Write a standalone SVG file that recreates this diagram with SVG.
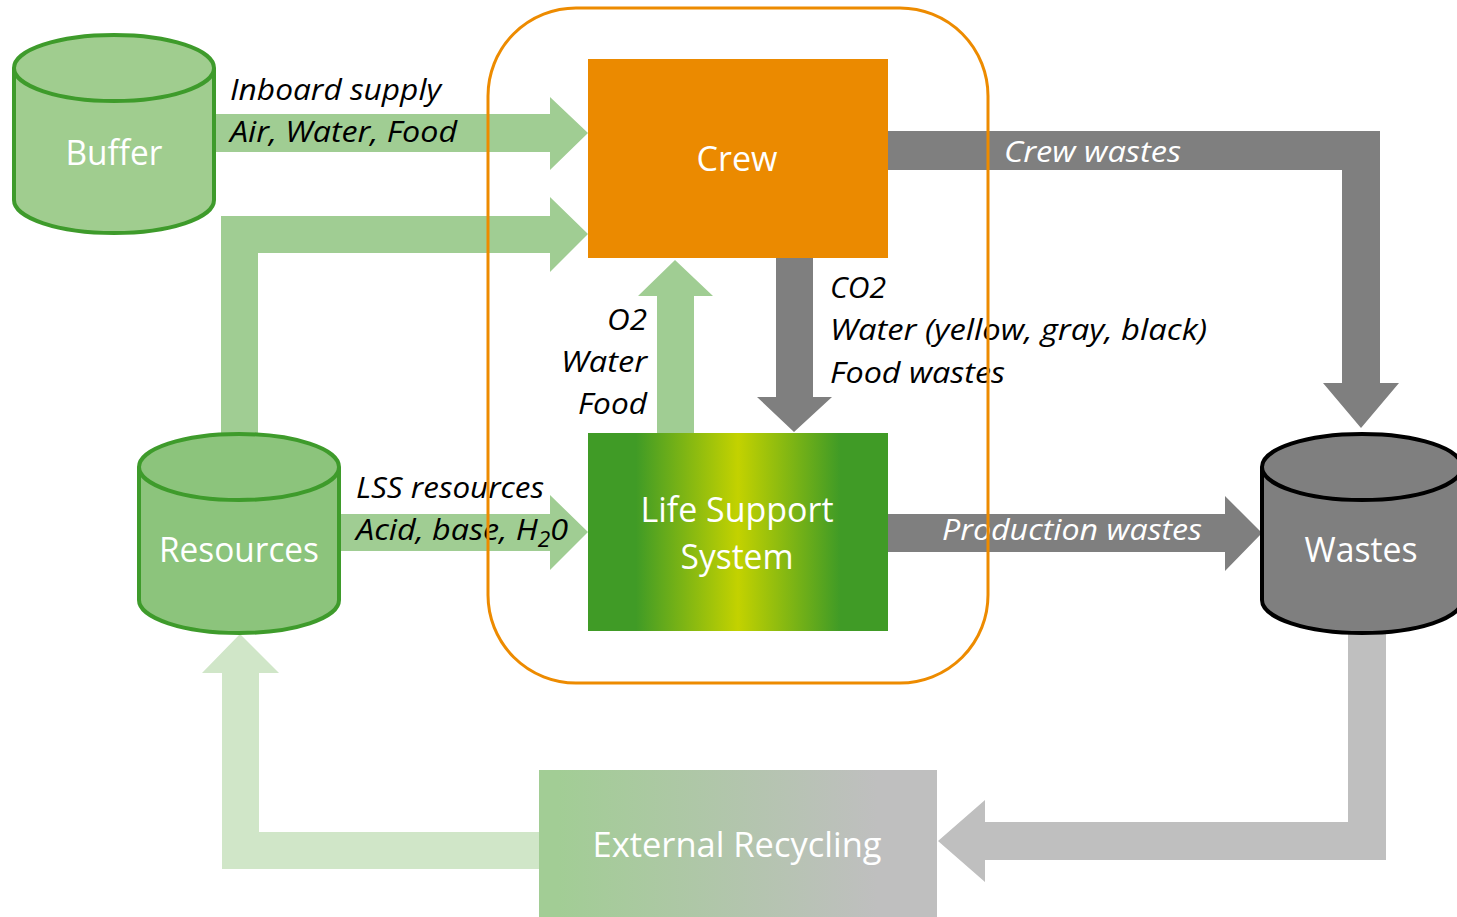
<svg xmlns="http://www.w3.org/2000/svg" width="1457" height="917" viewBox="0 0 1457 917">
<defs>
<style>
.lbl{font-family:"Open Sans","Liberation Sans",sans-serif;font-style:italic;font-size:30px;fill:#000}
.wlbl{font-family:"Open Sans","Liberation Sans",sans-serif;font-style:italic;font-size:30px;fill:#fff}
.node{font-family:"Open Sans","Liberation Sans",sans-serif;font-size:34px;fill:#fff;text-anchor:middle}
.green{fill:#a0cd93}
.gray{fill:#7f7f7f}
.lgray{fill:#bfbfbf}
.vlgreen{fill:#d0e6c8}
</style>
<linearGradient id="lssGrad" x1="0" y1="0" x2="1" y2="0">
<stop offset="0" stop-color="#409b26"/>
<stop offset="0.16" stop-color="#409b26"/>
<stop offset="0.5" stop-color="#c3d200"/>
<stop offset="0.84" stop-color="#409b26"/>
<stop offset="1" stop-color="#409b26"/>
</linearGradient>
<linearGradient id="extGrad" x1="0" y1="0" x2="1" y2="0">
<stop offset="0.05" stop-color="#a2cd95"/>
<stop offset="0.85" stop-color="#bfbfbf"/>
<stop offset="1" stop-color="#bfbfbf"/>
</linearGradient>
</defs>
<rect width="1457" height="917" fill="#fff"/>

<g id="connectors">
<path class="green" d="M214,114 H550 V97 L588,133 L550,170 V152 H214 Z"/>
<path class="green" d="M221,440 V216 H550 V197 L588,234 L550,272 V253 H258 V440 Z"/>
<path class="gray" d="M888,131 H1380 V383 H1399 L1361,428 L1323,383 H1342 V170 H888 Z"/>
<path class="gray" d="M776,258 H813 V397 H832 L794,432 L757,397 H776 Z"/>
<path class="green" d="M657,433 V296 H638 L675,260 L713,296 H694 V433 Z"/>
<path class="green" d="M339,514 H550 V495 L588,532 L550,570 V551 H339 Z"/>
<path class="gray" d="M888,514 H1225 V496 L1262,533 L1225,571 V552 H888 Z"/>
<path class="lgray" d="M1348,620 V822 H985 V800 L938,841 L985,882 V860 H1386 V620 Z"/>
<path class="vlgreen" d="M539,832 H259 V673 H279 L240,634 L202,673 H222 V869 H539 Z"/>

<text class="lbl" x="230" y="100" textLength="211" lengthAdjust="spacingAndGlyphs">Inboard supply</text>
<text class="lbl" x="230" y="142" textLength="227" lengthAdjust="spacingAndGlyphs">Air, Water, Food</text>
<text class="wlbl" x="1004" y="162" textLength="177" lengthAdjust="spacingAndGlyphs">Crew wastes</text>
<text class="lbl" x="830" y="298" textLength="56" lengthAdjust="spacingAndGlyphs">CO2</text>
<text class="lbl" x="830" y="340" textLength="377" lengthAdjust="spacingAndGlyphs">Water (yellow, gray, black)</text>
<text class="lbl" x="830" y="383" textLength="175" lengthAdjust="spacingAndGlyphs">Food wastes</text>
<text class="lbl" x="607" y="330" textLength="40" lengthAdjust="spacingAndGlyphs">O2</text>
<text class="lbl" x="561" y="372" textLength="86" lengthAdjust="spacingAndGlyphs">Water</text>
<text class="lbl" x="578" y="414" textLength="69" lengthAdjust="spacingAndGlyphs">Food</text>
<text class="lbl" x="356" y="498" textLength="188" lengthAdjust="spacingAndGlyphs">LSS resources</text>
<text class="lbl" x="356" y="540" textLength="212" lengthAdjust="spacingAndGlyphs">Acid, base, H<tspan font-size="21" dy="7">2</tspan><tspan dy="-7">0</tspan></text>
<text class="wlbl" x="942" y="540" textLength="260" lengthAdjust="spacingAndGlyphs">Production wastes</text>
</g>

<g id="buffer">
<path d="M14,68 A100,33 0 0 1 214,68 V200 A100,33 0 0 1 14,200 Z" fill="#a0cd8f" stroke="#3e9b2b" stroke-width="4"/>
<path d="M14,68 A100,33 0 0 0 214,68" fill="none" stroke="#3e9b2b" stroke-width="4"/>
<text class="node" x="114" y="165" textLength="97" lengthAdjust="spacingAndGlyphs">Buffer</text>
</g>

<g id="resources">
<path d="M139,467 A100,33 0 0 1 339,467 V600 A100,33 0 0 1 139,600 Z" fill="#8cc47c" stroke="#3e9b2b" stroke-width="4"/>
<path d="M139,467 A100,33 0 0 0 339,467" fill="none" stroke="#3e9b2b" stroke-width="4"/>
<text class="node" x="239" y="562" textLength="160" lengthAdjust="spacingAndGlyphs">Resources</text>
</g>

<g id="wastes">
<path d="M1262,467 A100,33 0 0 1 1462,467 V600 A100,33 0 0 1 1262,600 Z" fill="#7f7f7f" stroke="#000" stroke-width="4"/>
<path d="M1262,467 A100,33 0 0 0 1462,467" fill="none" stroke="#000" stroke-width="4"/>
<text class="node" x="1361" y="562" textLength="113" lengthAdjust="spacingAndGlyphs">Wastes</text>
</g>

<g id="crew">
<rect x="588" y="59" width="300" height="199" fill="#eb8a00"/>
<text class="node" x="737" y="171" textLength="81" lengthAdjust="spacingAndGlyphs">Crew</text>
</g>

<g id="lss">
<rect x="588" y="433" width="300" height="198" fill="url(#lssGrad)"/>
<text class="node" x="737" y="522" textLength="193" lengthAdjust="spacingAndGlyphs">Life Support</text>
<text class="node" x="737" y="569" textLength="113" lengthAdjust="spacingAndGlyphs">System</text>
</g>

<g id="external-recycling">
<rect x="539" y="770" width="398" height="147" fill="url(#extGrad)"/>
<text class="node" x="737" y="857" textLength="289" lengthAdjust="spacingAndGlyphs">External Recycling</text>
</g>

<g id="habitat-boundary">
<rect x="488" y="8" width="500" height="675" rx="88" ry="88" fill="none" stroke="#ed8b00" stroke-width="3"/>
</g>
</svg>
